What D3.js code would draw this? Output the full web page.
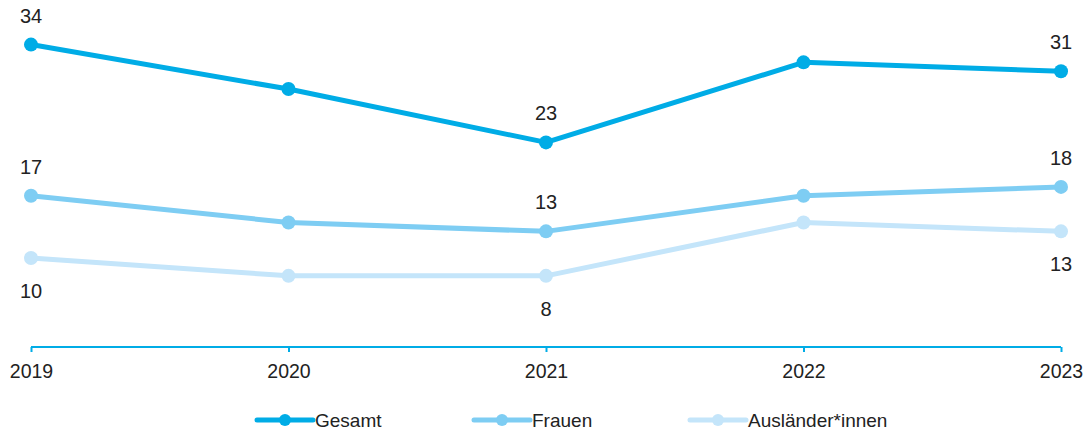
<!DOCTYPE html>
<html><head><meta charset="utf-8">
<script src="https://cdn.jsdelivr.net/npm/d3@7"></script>
<style>body{margin:0;background:#fff}svg{display:block}text{font-family:"Liberation Sans",Arial,sans-serif;fill:#222}</style>
</head><body><svg id="c" width="1088" height="434"></svg>
<script>
const years = ["2019","2020","2021","2022","2023"];
const gesamt = [34, 29, 23, 32, 31];
const frauen = [17, 14, 13, 17, 18];
const auslaender = [10, 8, 8, 14, 13];
const seriesNames = ["Gesamt","Frauen","Ausländer*innen"];
const colors = ["#00ace6","#7ecdf3","#c4e5fa"];
const labelIdx = [0, 2, 4];
const labelPos = ["above","above","below"];

const svg = d3.select("#c");
const x = d3.scalePoint().domain(years).range([31, 1061]);
const y = d3.scaleLinear().domain([0, 38]).range([347, 9]);

const data = [gesamt, frauen, auslaender];

// axis
const ax = svg.append("g").attr("transform","translate(0,347)")
  .call(d3.axisBottom(x).tickSize(5).tickPadding(12));
ax.attr("font-size",19).attr("font-family",null);
ax.select(".domain").attr("stroke","#00ace6").attr("stroke-width",2).attr("d","M31,0H1061");
ax.selectAll(".tick line").attr("stroke","#00ace6").attr("stroke-width",2);
ax.selectAll(".tick text").attr("fill","#222").style("font-size","19.5px");

const line = d3.line().x((d,i)=>x(years[i])).y(d=>y(d));
[2,1,0].forEach(s=>{
  const g = svg.append("g");
  g.append("path").datum(data[s]).attr("d",line).attr("fill","none")
    .attr("stroke",colors[s]).attr("stroke-width",5).attr("stroke-linejoin","round");
  g.selectAll("circle").data(data[s]).join("circle")
    .attr("cx",(d,i)=>x(years[i])).attr("cy",d=>y(d)).attr("r",7).attr("fill",colors[s]);
  labelIdx.forEach(i=>{
    g.append("text").attr("x",x(years[i])).attr("y", labelPos[s]==="above" ? y(data[s][i])-22 : y(data[s][i])+40)
      .attr("text-anchor","middle").style("font-size","20px").text(data[s][i]);
  });
});

// legend
const legX = [257, 474, 690];
seriesNames.forEach((n,s)=>{
  const g = svg.append("g").attr("transform",`translate(${legX[s]},420)`);
  g.append("line").attr("x1",0).attr("x2",56).attr("stroke",colors[s]).attr("stroke-width",5).attr("stroke-linecap","round");
  g.append("circle").attr("cx",28).attr("r",6).attr("fill",colors[s]);
  g.append("text").attr("x",58).attr("y",7).style("font-size","19px").text(n);
});
</script></body></html>
